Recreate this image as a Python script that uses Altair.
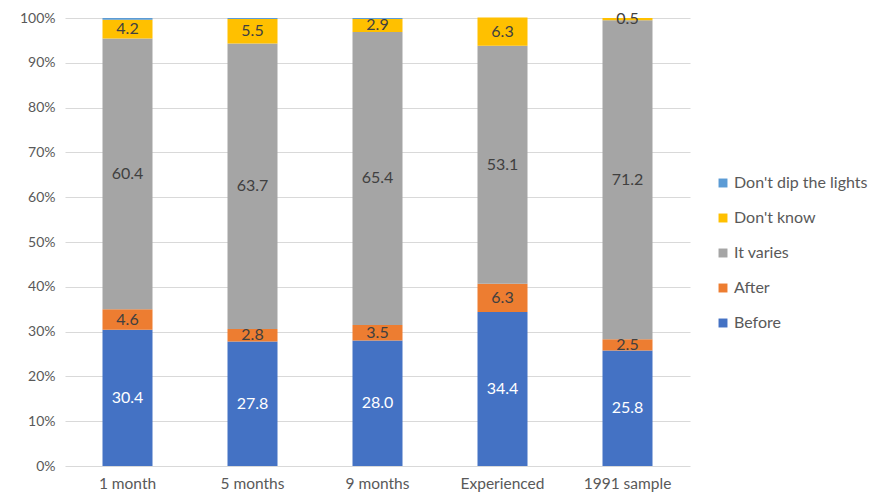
import altair as alt
import pandas as pd

categories = ["1 month", "5 months", "9 months", "Experienced", "1991 sample"]
series = ["Before", "After", "It varies", "Don't know", "Don't dip the lights"]
before = [30.4, 27.8, 28.0, 34.4, 25.8]
after = [4.6, 2.8, 3.5, 6.3, 2.5]
varies = [60.4, 63.7, 65.4, 53.1, 71.2]
dontknow = [4.2, 5.5, 2.9, 6.3, 0.5]
dontdip = [0.4, 0.2, 0.2, 0.0, 0.0]
colors = ["#4472C4", "#ED7D31", "#A5A5A5", "#FFC000", "#5B9BD5"]

rows = []
for i, c in enumerate(categories):
    for j, (s, vals) in enumerate(zip(series, [before, after, varies, dontknow, dontdip])):
        rows.append({"cat": c, "series": s, "value": vals[i], "ord": j,
                     "label": f"{vals[i]:.1f}" if s != "Don't dip the lights" else ""})
df = pd.DataFrame(rows)

FONT = "Lato"
base = alt.Chart(df).transform_stack(
    stack="value", groupby=["cat"], as_=["y0", "y1"], sort=[alt.SortField("ord", "ascending")]
).transform_calculate(
    ymid="(datum.y0 + datum.y1) / 2 / 100",
    y0f="datum.y0 / 100",
    y1f="datum.y1 / 100",
)

bars = base.mark_bar().encode(
    x=alt.X("cat:N", sort=categories, title=None,
            scale=alt.Scale(paddingInner=0.6, paddingOuter=0.3),
            axis=alt.Axis(labelAngle=0, labelFont=FONT, labelFontSize=15.5, labelColor="#595959",
                          ticks=False, domain=False, labelPadding=10)),
    y=alt.Y("y0f:Q", title=None, scale=alt.Scale(domain=[0, 1]),
            axis=alt.Axis(format="%", values=[i / 10 for i in range(11)], labelFont=FONT,
                          labelFontSize=14, labelColor="#595959", ticks=False, domain=False,
                          gridColor="#D9D9D9", labelPadding=10)),
    y2="y1f:Q",
    color=alt.Color("series:N",
                    scale=alt.Scale(domain=list(reversed(series)), range=list(reversed(colors))),
                    legend=alt.Legend(title=None, orient="none", legendX=650, legendY=157,
                                      symbolType="square", symbolSize=80, symbolStrokeWidth=0,
                                      labelFont=FONT, labelFontSize=16, labelColor="#595959",
                                      rowPadding=19, labelOffset=3)),
)

text = base.mark_text(font=FONT, fontSize=16).encode(
    x=alt.X("cat:N", sort=categories),
    y=alt.Y("ymid:Q"),
    text="label:N",
    color=alt.condition(alt.datum.series == "Before", alt.value("white"), alt.value("#404040")),
)

chart = (bars + text).properties(
    width=625, height=448,
    autosize=alt.AutoSizeParams(type="none"),
    padding={"left": 57, "top": 10, "right": 184, "bottom": 28},
).configure_view(stroke=None)

chart.save("out.html", embed_options={"renderer": "svg", "actions": False})
